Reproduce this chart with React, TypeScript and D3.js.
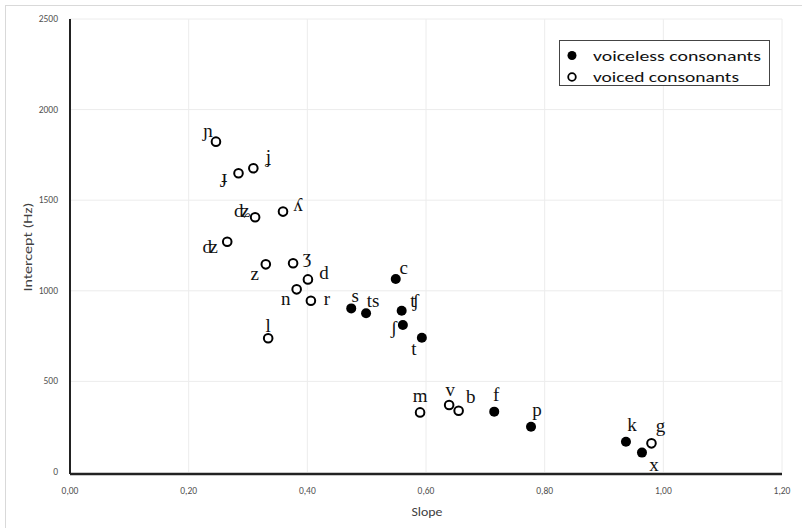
import React from "react";
import * as d3 from "d3";

const labels = ["ɲ","ɟ","ʝ","ʎ","ʥ","ʣ","z","ʒ","d","n","r","l","m","v","b","g","s","ts","c","ʧ","ʃ","t","f","p","k","x"];
const slopes = [0.246,0.284,0.309,0.359,0.312,0.265,0.330,0.376,0.401,0.382,0.406,0.334,0.590,0.639,0.655,0.980,0.474,0.499,0.549,0.559,0.561,0.593,0.715,0.777,0.937,0.964];
const intercepts = [1823,1649,1676,1437,1406,1271,1146,1152,1063,1008,945,738,329,370,338,158,903,876,1065,890,811,741,333,250,167,107];
const voiced = [true,true,true,true,true,true,true,true,true,true,true,true,true,true,true,true,false,false,false,false,false,false,false,false,false,false];
const xTicks = [0,0.2,0.4,0.6,0.8,1.0,1.2];
const yTicks = [0,500,1000,1500,2000,2500];
const legendLabels = ["voiceless consonants","voiced consonants"];

// label placement offsets (px) relative to the marker
const labelOffsets: Record<string,[number,number]> = {
  "ɲ":[-8,-11],"ɟ":[-14,3],"ʝ":[15,-12],"ʎ":[15,-7],"ʥ":[-13,-7],"ʣ":[-17,5],
  "z":[-11,9],"ʒ":[14,-7],"d":[16,-7],"n":[-11,9],"r":[16,-2],"l":[0,-13],
  "s":[4,-13],"ts":[7,-13],"c":[8,-12],"ʧ":[13,-10],"ʃ":[-9,2],"t":[-8,11],
  "m":[0,-17],"v":[1,-15],"b":[12,-14],"f":[2,-17],"p":[6,-17],"k":[6,-17],
  "x":[12,12],"g":[9,-18],
};

const W = 802, H = 528;
const left = 70, right = 782, top = 19, bottom = 472;

export default function App() {
  const x = d3.scaleLinear().domain([0, 1.2]).range([left, right]);
  const y = d3.scaleLinear().domain([0, 2500]).range([bottom, top]);
  const fmt = (v: number) => d3.format(".2f")(v).replace(".", ",");
  const sans = "Carlito, 'Open Sans', 'Liberation Sans', sans-serif";
  const serif = "'Liberation Serif', 'DejaVu Serif', serif";
  return (
    <svg width={W} height={H} style={{ position: "absolute", left: 0, top: 0 }}>
      <rect x={0} y={0} width={W} height={H} fill="#fff" />
      <rect x={5.5} y={5.5} width={W - 4} height={H - 4} fill="none" stroke="#d9d9d9" />
      {yTicks.filter(t => t > 0).map(t => (
        <line key={"gy" + t} x1={left} x2={right} y1={y(t)} y2={y(t)} stroke="#ececec" />
      ))}
      {xTicks.filter(t => t > 0).map(t => (
        <line key={"gx" + t} x1={x(t)} x2={x(t)} y1={top} y2={bottom} stroke="#ececec" />
      ))}
      <line x1={left} x2={left} y1={top} y2={bottom + 2} stroke="#222" strokeWidth={2} />
      <line x1={left} x2={right} y1={bottom + 2} y2={bottom + 2} stroke="#222" strokeWidth={2.5} />
      {yTicks.map(t => (
        <text key={"ty" + t} x={left - 12} y={y(t)} textAnchor="end" dominantBaseline="central"
          fontSize={9.5} fill="#505050" fontFamily={sans}>{t}</text>
      ))}
      {xTicks.map(t => (
        <text key={"tx" + t} x={x(t)} y={491} textAnchor="middle" dominantBaseline="central"
          fontSize={9.5} fill="#505050" fontFamily={sans}>{fmt(t)}</text>
      ))}
      <text x={427} y={511} textAnchor="middle" dominantBaseline="central" fontSize={13} fill="#404040"
        fontFamily={sans} textLength={31} lengthAdjust="spacingAndGlyphs">Slope</text>
      <text transform={`translate(27,247) rotate(-90)`} textAnchor="middle" dominantBaseline="central" fontSize={13}
        fill="#404040" fontFamily={sans} textLength={89} lengthAdjust="spacingAndGlyphs">Intercept (Hz)</text>
      {labels.map((l, i) => {
        const cx = x(slopes[i]), cy = y(intercepts[i]);
        const [dx, dy] = labelOffsets[l] || [8, -12];
        return (
          <g key={l}>
            {voiced[i]
              ? <circle cx={cx} cy={cy} r={4.3} fill="#fff" stroke="#000" strokeWidth={2} />
              : <circle cx={cx} cy={cy} r={5} fill="#000" />}
            <text x={cx + dx} y={cy + dy} textAnchor="middle" dominantBaseline="central"
              fontSize={19} fill="#111" fontFamily={serif}>{l}</text>
          </g>
        );
      })}
      <rect x={559.5} y={40.5} width={210} height={45} fill="#fff" stroke="#444" />
      <circle cx={572} cy={55.5} r={4.5} fill="#000" />
      <circle cx={572} cy={77} r={3.8} fill="#fff" stroke="#000" strokeWidth={1.8} />
      <text x={593} y={55.5} dominantBaseline="central" fontSize={15} fill="#111" fontFamily={sans}
        textLength={168} lengthAdjust="spacingAndGlyphs">{legendLabels[0]}</text>
      <text x={593} y={77} dominantBaseline="central" fontSize={15} fill="#111" fontFamily={sans}
        textLength={146} lengthAdjust="spacingAndGlyphs">{legendLabels[1]}</text>
    </svg>
  );
}
